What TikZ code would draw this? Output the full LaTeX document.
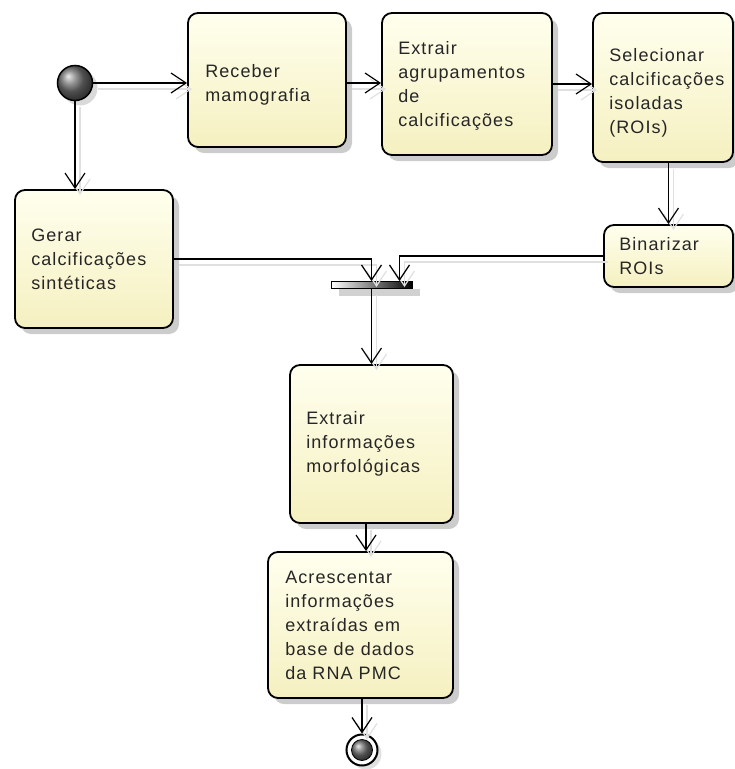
\documentclass[tikz,border=0pt]{standalone}
\usepackage{fontspec}
\setmainfont[LetterSpace=6]{Liberation Sans}
\usetikzlibrary{arrows.meta,shadows,calc}
\definecolor{boxtop}{RGB}{255,255,238}
\definecolor{boxbot}{RGB}{245,240,192}
\begin{document}
\begin{tikzpicture}[x=1pt,y=-1pt,
  act/.style={draw=black, line width=1.8pt, rounded corners=10pt, top color=boxtop, bottom color=boxbot,
    inner sep=0pt, drop shadow={shadow xshift=6pt, shadow yshift=-6pt, fill=black!20, opacity=1}},
  lbl/.style={anchor=west, align=left, font=\fontsize{18}{24}\selectfont, text=black!85, inner sep=0pt},
  flow/.style={line width=1.2pt, -{Straight Barb[length=15pt,width=20pt,line width=1.2pt]}},
  fsh/.style={line width=1.2pt, draw=black!12, -{Straight Barb[length=15pt,width=20pt,line width=1.2pt]},
    transform canvas={shift={(5pt,-6pt)}}}
]
\useasboundingbox (0,0) rectangle (735,769);

% activity boxes
\node[act, minimum width=158pt, minimum height=134pt] (rec) at (267,80) {};
\node[act, minimum width=170pt, minimum height=142pt] (agr) at (467,84) {};
\node[act, minimum width=140pt, minimum height=149pt] (sel) at (663,87.5) {};
\node[act, minimum width=129pt, minimum height=62pt] (bin) at (668.5,256) {};
\node[act, minimum width=158pt, minimum height=138pt] (ger) at (94,259) {};
\node[act, minimum width=163pt, minimum height=158pt] (ext) at (371.5,444) {};
\node[act, minimum width=185pt, minimum height=146pt] (acr) at (360.5,625) {};

% labels
\node[lbl] (trec) at ([xshift=18pt,yshift=-5pt]rec.west) {Receber\\mamografia};
\node[lbl] (tagr) at ([xshift=17pt,yshift=-2pt]agr.west) {Extrair\\agrupamentos\\de\\calcificações};
\node[lbl] (tsel) at ([xshift=17pt,yshift=-5pt]sel.west) {Selecionar\\calcificações\\isoladas\\(ROIs)};
\node[lbl] (tbin) at ([xshift=16pt]bin.west) {Binarizar\\ROIs};
\node[lbl] (tger) at ([xshift=17pt]ger.west) {Gerar\\calcificações\\sintéticas};
\node[lbl] (text) at ([xshift=17pt]ext.west) {Extrair\\informações\\morfológicas};
\node[lbl] (tacr) at ([xshift=18pt]acr.west) {Acrescentar\\informações\\extraídas em\\base de dados\\da RNA PMC};

% initial node
\node[circle, draw=black, line width=1.5pt, minimum size=35pt, inner sep=0pt, ball color=black!55,
  drop shadow={shadow xshift=5pt, shadow yshift=-5pt, fill=black!15, opacity=1}] (start) at (75,83) {};

% join bar
\node[draw=black, line width=1pt, minimum width=81pt, minimum height=7pt, inner sep=0pt,
  left color=white, right color=black,
  drop shadow={shadow xshift=8pt, shadow yshift=-7pt, fill=black!18, opacity=1}] (join) at (371.5,285) {};

% final node
\node[circle, draw=black, line width=2pt, minimum size=31pt, inner sep=0pt, fill=white,
  drop shadow={shadow xshift=4pt, shadow yshift=-4pt, fill=black!12, opacity=1}] (fin) at (362,750) {};
\node[circle, draw=black, line width=0.8pt, minimum size=21pt, inner sep=0pt, ball color=black!55] (finin) at (fin) {};

% connector shadows
\draw[fsh] (start.east) -- (start.east -| rec.west);
\draw[fsh] (start.south) -- (start.south |- ger.north);
\draw[fsh] (rec.east |- start) -- (agr.west |- start);
\draw[fsh] (agr.east) -- (agr.east -| sel.west);
\draw[fsh] (bin.north |- sel.south) -- (bin.north);
\draw[fsh] (ger.east) -| (join.north);
\draw[fsh] (bin.west) -| ([xshift=28pt]join.north);
\draw[fsh] (join.south) -- (join.south |- ext.north);
\draw[fsh] ([xshift=-5.5pt]ext.south) -- ([xshift=-5.5pt]ext.south |- acr.north);
\draw[fsh] (acr.south -| fin) -- (fin.north);

% connectors
\draw[flow] (start.east) -- (start.east -| rec.west);
\draw[flow] (start.south) -- (start.south |- ger.north);
\draw[flow] (rec.east |- start) -- (agr.west |- start);
\draw[flow] (agr.east) -- (agr.east -| sel.west);
\draw[flow] (bin.north |- sel.south) -- (bin.north);
\draw[flow] (ger.east) -| (join.north);
\draw[flow] (bin.west) -| ([xshift=28pt]join.north);
\draw[flow] (join.south) -- (join.south |- ext.north);
\draw[flow] ([xshift=-5.5pt]ext.south) -- ([xshift=-5.5pt]ext.south |- acr.north);
\draw[flow] (acr.south -| fin) -- (fin.north);
\end{tikzpicture}
\end{document}
